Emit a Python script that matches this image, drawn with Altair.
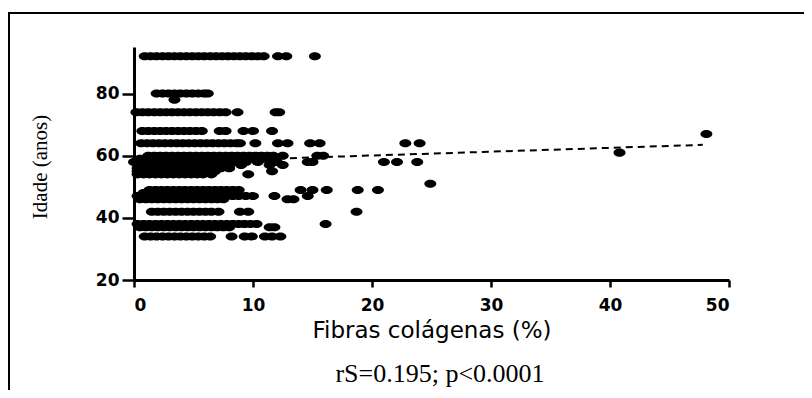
import altair as alt
import pandas as pd

# ---- data ----
ages = [92, 80, 78, 74, 68, 67, 64, 61, 60, 59, 58, 57, 56, 55, 54, 51,
        49, 48, 47, 46, 42, 38, 37, 34]

fibras_92 = [0.9, 1.4, 1.9, 2.4, 2.9, 3.4, 3.9, 4.4, 4.9, 5.4, 5.9, 6.4, 6.9, 7.4, 7.9, 8.4,
             8.9, 9.4, 9.9, 10.4, 10.9, 12.1, 12.8, 15.2]
fibras_80 = [1.9, 2.4, 2.9, 3.4, 3.9, 4.4, 4.9, 5.4, 5.9, 6.2]
fibras_78 = [3.4]
fibras_74 = [0.2, 0.7, 1.2, 1.7, 2.2, 2.7, 3.2, 3.7, 4.2, 4.7, 5.2, 5.7, 6.2, 6.7, 7.2, 7.7,
             8.7, 11.9, 12.2]
fibras_68 = [0.7, 1.2, 1.7, 2.2, 2.7, 3.2, 3.7, 4.2, 4.7, 5.2, 5.7, 7.2, 7.7, 9.2, 10.0, 11.6]
fibras_67 = [48.1]
fibras_64 = [0.6, 1.1, 1.6, 2.1, 2.6, 3.1, 3.6, 4.1, 4.6, 5.1, 5.6, 6.1, 6.6, 7.1, 7.6, 8.1,
             8.6, 8.9, 10.2, 12.1, 12.9, 14.8, 15.6, 22.8, 24.0]
fibras_61 = [40.8]
fibras_60 = [1.2, 1.7, 2.2, 2.7, 3.2, 3.7, 4.2, 4.7, 5.2, 5.7, 6.2, 6.7, 7.2, 7.7, 8.2, 8.7,
             9.2, 9.7, 10.2, 10.7, 11.2, 11.7, 12.5, 15.4, 15.9]
fibras_59 = [0.5, 1.0, 1.5, 2.0, 2.5, 3.0, 3.5, 4.0, 4.5, 5.0, 5.5, 6.0, 6.5, 7.0, 7.5, 8.0,
             8.5, 9.0, 9.6, 10.3, 11.0]
fibras_58 = [0.0, 0.5, 1.0, 1.5, 2.0, 2.5, 3.0, 3.5, 4.0, 4.5, 5.0, 5.5, 6.0, 6.5, 7.0, 7.5,
             8.0, 8.6, 9.4, 10.4, 11.5, 12.0, 14.6, 15.0, 21.0, 22.1, 23.8]
fibras_57 = [0.5, 1.0, 1.5, 2.0, 2.5, 3.0, 3.5, 4.0, 4.5, 5.0, 5.5, 6.0, 6.5, 7.0, 7.5, 8.0,
             9.0, 11.4, 12.5]
fibras_56 = [0.3, 0.8, 1.3, 1.8, 2.3, 2.8, 3.3, 3.8, 4.3, 4.8, 5.3, 5.8, 6.3, 6.8, 7.3, 8.0]
fibras_55 = [0.3, 0.8, 1.3, 1.8, 2.3, 2.8, 3.3, 3.8, 4.3, 4.8, 5.3, 5.8, 6.3, 6.8, 11.6]
fibras_54 = [0.3, 0.8, 1.3, 1.8, 2.3, 2.8, 3.3, 3.8, 4.3, 4.8, 5.3, 5.8, 6.5, 9.6]
fibras_51 = [24.9]
fibras_49 = [1.3, 1.8, 2.3, 2.8, 3.3, 3.8, 4.3, 4.8, 5.3, 5.8, 6.3, 6.8, 7.3, 7.8, 8.3, 8.8,
             14.0, 15.0, 16.2, 18.8, 20.5]
fibras_48 = [0.8, 1.3, 1.8, 2.3, 2.8, 3.3, 3.8, 4.3, 4.8, 5.3, 5.8, 6.3, 6.8, 7.3, 7.8, 8.5]
fibras_47 = [0.3, 0.8, 1.3, 1.8, 2.3, 2.8, 3.3, 3.8, 4.3, 4.8, 5.3, 5.8, 6.3, 6.8, 7.3, 7.8,
             8.3, 8.8, 9.4, 10.0, 11.8, 14.6]
fibras_46 = [0.5, 1.0, 1.5, 2.0, 2.5, 3.0, 3.5, 4.0, 4.5, 5.0, 5.5, 6.0, 6.5, 7.0, 7.5,
             12.9, 13.4]
fibras_42 = [1.5, 2.0, 2.5, 3.0, 3.5, 4.0, 4.5, 5.0, 5.5, 6.0, 6.5, 7.1, 8.9, 9.6, 18.7]
fibras_38 = [0.3, 0.8, 1.3, 1.8, 2.3, 2.8, 3.3, 3.8, 4.3, 4.8, 5.3, 5.8, 6.3, 6.8, 7.3, 7.8,
             8.3, 8.8, 9.3, 9.8, 10.3, 16.1]
fibras_37 = [0.5, 1.0, 1.5, 2.0, 2.5, 3.0, 3.5, 4.0, 4.5, 5.0, 5.5, 6.0, 6.5, 7.0, 7.5, 8.0,
             11.4, 11.8]
fibras_34 = [0.9, 1.4, 1.9, 2.4, 2.9, 3.4, 3.9, 4.4, 4.9, 5.4, 5.9, 6.4, 8.2, 9.3, 9.9, 11.0,
             11.6, 12.3]

rows = [fibras_92, fibras_80, fibras_78, fibras_74, fibras_68, fibras_67, fibras_64, fibras_61,
        fibras_60, fibras_59, fibras_58, fibras_57, fibras_56, fibras_55, fibras_54, fibras_51,
        fibras_49, fibras_48, fibras_47, fibras_46, fibras_42, fibras_38, fibras_37, fibras_34]

trend_x = [0.0, 47.8]
trend_y = [57.6, 63.5]

x_ticks = [0, 10, 20, 30, 40, 50]
y_ticks = [20, 40, 60, 80]
x_title = "Fibras colágenas (%)"
y_title = "Idade (anos)"
annotation = "rS=0.195; p<0.0001"

# ---- tables ----
df = pd.DataFrame([{"fibras": x, "idade": a} for a, xs in zip(ages, rows) for x in xs])
trend = pd.DataFrame({"fibras": trend_x, "idade": trend_y})
note = pd.DataFrame({"t": [annotation]})
one = pd.DataFrame({"a": [0]})

W, H = 595, 233
ELLIPSE = "M-1,0A1,0.667,0,1,0,1,0A1,0.667,0,1,0,-1,0Z"

x_scale = alt.Scale(domain=[0, 50], nice=False, zero=False)
y_scale = alt.Scale(domain=[20, 95], nice=False, zero=False)

x_axis = alt.Axis(values=x_ticks, title=x_title, grid=False, tickSize=7, labelPadding=10,
                  labelFont="DejaVu Sans", labelFontWeight="bold", labelFontSize=17,
                  titleFont="DejaVu Sans", titleFontWeight="normal", titleFontSize=23,
                  titleBaseline="middle", titleY=50, titleX=W / 2, titleAlign="center")
y_axis = alt.Axis(values=y_ticks, title=y_title, grid=False, tickSize=12, labelPadding=3,
                  labelFont="DejaVu Sans", labelFontWeight="bold", labelFontSize=17,
                  titleFont="Liberation Serif", titleFontWeight="normal", titleFontSize=21,
                  titleAngle=270, titleBaseline="middle", titleAlign="center",
                  titleX=-94, titleY=H / 2 + 3)

points = alt.Chart(df).mark_point(shape=ELLIPSE, filled=True, size=144, color="black",
                                  opacity=1, strokeWidth=0).encode(
    x=alt.X("fibras:Q", scale=x_scale, axis=x_axis),
    y=alt.Y("idade:Q", scale=y_scale, axis=y_axis),
)

line = alt.Chart(trend).mark_line(color="black", strokeWidth=2, strokeDash=[7, 5]).encode(
    x=alt.X("fibras:Q", scale=x_scale),
    y=alt.Y("idade:Q", scale=y_scale),
)

text = alt.Chart(note).mark_text(font="Liberation Serif", fontSize=26, align="center",
                                 baseline="alphabetic", color="black").encode(
    text="t:N", x=alt.value(306), y=alt.value(335))

frame_top = alt.Chart(one).mark_rule(color="black", strokeWidth=2).encode(
    x=alt.value(-125), x2=alt.value(680), y=alt.value(-34))
frame_left = alt.Chart(one).mark_rule(color="black", strokeWidth=2).encode(
    x=alt.value(-125), y=alt.value(-35), y2=alt.value(350))

chart = alt.layer(frame_top, frame_left, points, line, text).properties(
    width=W, height=H,
    padding={"left": 126, "top": 39, "right": 75, "bottom": 110},
    autosize=alt.AutoSizeParams(type="none"),
).configure_view(strokeWidth=0).configure_axis(
    domainColor="black", domainWidth=3, tickColor="black", tickWidth=2.5,
    labelColor="black", titleColor="black",
)

chart.save("out.html", embed_options={"renderer": "svg", "actions": False})
